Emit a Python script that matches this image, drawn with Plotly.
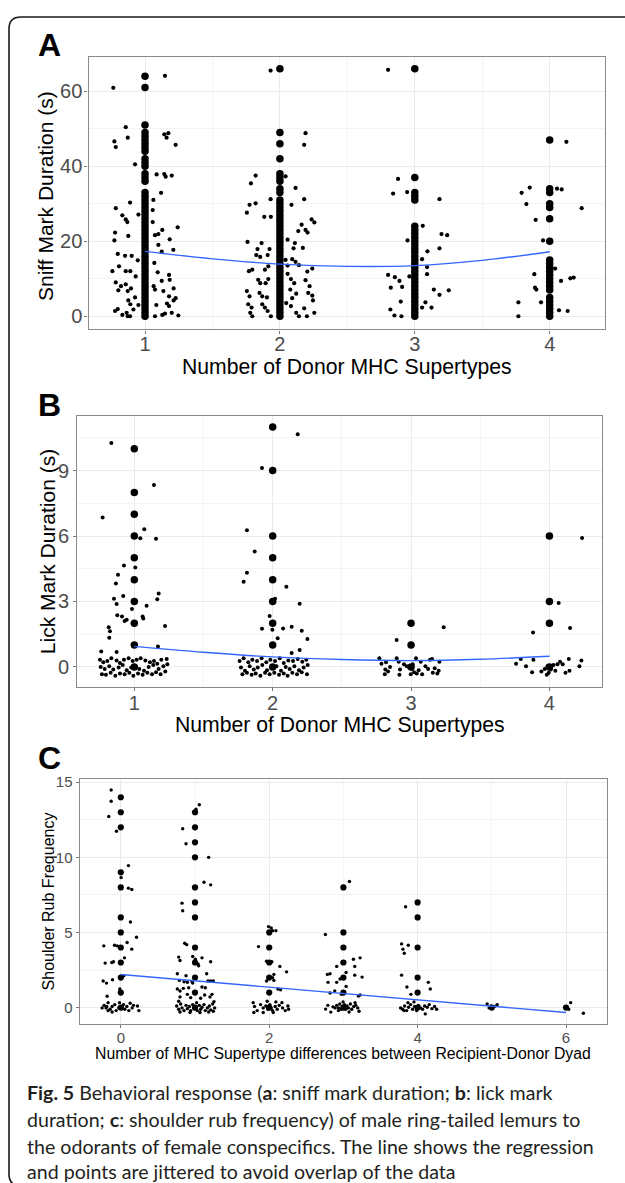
import plotly.graph_objects as go

W, H = 625, 1183

# ---------------- Panel A : sniff mark duration ----------------
a_big_1 = [0, 1, 2, 3, 4, 5, 6, 7, 8, 9, 10, 11, 12, 13, 14, 15, 16, 17, 18, 19, 20, 21, 22, 23, 24, 25, 26,
           27, 28, 29, 30, 31, 32, 33, 36, 37, 38, 40, 41, 42, 44, 45, 46, 47, 48, 49, 51, 61, 64]
a_big_2 = [0, 1, 2, 3, 4, 5, 6, 7, 8, 9, 10, 11, 12, 13, 14, 15, 16, 17, 18, 19, 20, 21, 22, 23, 24, 25, 26,
           27, 28, 29, 30, 31, 33, 34, 36, 37, 38, 42, 46, 49, 66]
a_big_3 = [0, 1, 2, 3, 4, 5, 6, 7, 8, 9, 10, 11, 12, 13, 14, 15, 16, 17, 18, 19, 20, 21, 22, 23, 24,
           31, 32, 33, 37, 66]
a_big_4 = [0, 1, 2, 3, 4, 5, 7, 8, 9, 10, 11, 12, 13, 14, 15, 20, 26, 29, 30, 33, 34, 47]

a_jit_x = [0.765, 1.148, 0.857, 0.872, 0.773, 0.783, 1.143, 1.173, 1.16, 1.227, 0.926, 1.086, 1.143, 1.153, 1.198,
           1.119, 0.783, 0.889, 0.832, 0.857, 0.869, 0.951, 1.062, 1.057, 1.057, 1.242, 1.128, 1.074, 1.099, 0.778,
           0.773, 0.876, 1.183, 1.099, 1.21, 0.798, 0.852, 0.901, 0.946, 1.124, 0.758, 0.807, 0.857, 0.891, 0.931,
           1.069, 1.094, 1.178, 1.183, 0.783, 0.802, 0.822, 0.857, 0.872, 0.896, 0.926, 0.876, 0.891, 0.951, 1.064,
           1.074, 1.124, 1.136, 1.212, 1.178, 1.227, 1.212, 1.084, 1.163, 1.178, 0.798, 0.778, 0.832, 0.864, 0.872,
           0.889, 0.914, 1.074, 1.128, 1.148, 1.198, 1.247,
           1.931, 2.19, 2.18, 1.82, 1.785, 2.042, 2.116, 1.931, 2.18, 1.775, 1.82, 1.755, 1.884, 1.933, 2.086, 2.235,
           2.255, 2.161, 2.136, 2.19, 2.205, 1.76, 1.864, 1.834, 1.825, 1.854, 1.923, 1.909, 2.057, 2.111, 2.101,
           2.17, 2.091, 2.116, 2.141, 1.77, 1.795, 1.889, 1.914, 2.042, 2.057, 2.24, 2.203, 1.839, 1.854, 1.914,
           1.894, 2.057, 2.082, 2.106, 2.19, 2.22, 1.755, 1.775, 1.849, 1.869, 1.904, 2.077, 2.091, 2.121, 2.21,
           2.24, 2.245, 1.765, 1.79, 1.78, 1.795, 1.869, 1.889, 1.909, 1.933, 2.047, 2.082, 2.121, 2.141, 2.18, 2.2,
           2.255,
           2.802, 2.876, 2.839, 2.943, 3.183, 3.059, 3.198, 3.24, 2.946, 3.094, 3.183, 3.054, 3.091, 3.091, 2.802,
           2.852, 2.886, 2.906, 2.822, 2.96, 3.141, 3.183, 3.252, 2.896, 2.819, 2.849, 2.901, 3.079, 3.054, 3.124,
           4.124, 3.792, 3.852, 4.054, 4.089, 3.827, 4.237, 3.896, 3.951, 4.04, 3.886, 3.891, 3.901, 4.084, 4.153,
           4.178, 3.768, 3.768, 3.936, 4.069, 4.133]
a_jit_y = [60.9, 64.1, 50.4, 47.6, 46.6, 45.1, 48.5, 48.8, 47.6, 45.7, 40.5, 37.8, 37.9, 37.2, 37.5,
           32.9, 28.8, 30.3, 26.9, 25.8, 25.1, 27.1, 31.0, 28.3, 25.1, 23.7, 23.0, 21.6, 21.9, 22.3,
           20.2, 21.4, 20.5, 19.0, 17.7, 16.6, 16.1, 16.1, 14.9, 17.2, 12.0, 13.3, 12.0, 12.0, 10.6,
           14.2, 11.7, 11.0, 9.7, 9.0, 6.9, 8.0, 8.5, 6.7, 7.4, 5.0, 4.2, 3.2, 3.0, 8.0,
           7.1, 9.4, 6.7, 7.4, 5.3, 4.8, 4.2, 3.0, 3.4, 2.7, 1.9, 1.4, 0.35, 0.9, 0.0,
           0.0, 1.8, 0.0, 0.35, 0.7, 0.9, 0.2,
           65.5, 48.8, 45.7, 37.5, 35.4, 37.3, 34.2, 31.2, 31.2, 29.7, 30.1, 27.6, 26.5, 26.5, 29.7, 25.8,
           25.0, 24.4, 22.7, 23.0, 22.3, 19.8, 19.5, 17.9, 16.3, 15.8, 17.9, 16.3, 20.4, 19.5, 18.1,
           18.2, 15.2, 14.5, 13.6, 12.0, 12.4, 12.4, 13.3, 15.0, 13.5, 12.7, 11.9, 9.7, 8.8, 9.9,
           8.8, 11.3, 9.9, 8.8, 9.6, 8.0, 6.7, 5.3, 6.2, 5.3, 5.0, 7.1, 4.8, 6.0, 6.2,
           5.5, 4.2, 3.2, 2.3, 0.9, 0.0, 3.2, 2.3, 1.4, 0.0, 3.5, 2.7, 0.9, 0.0, 2.1, 0.0,
           0.9,
           65.7, 36.6, 32.7, 33.1, 31.2, 24.1, 21.9, 21.6, 20.2, 17.3, 18.1, 15.2, 13.1, 11.2, 11.0,
           10.4, 9.4, 7.8, 7.6, 10.6, 7.1, 5.7, 6.9, 3.9, 1.8, 0.2, 0.0, 3.7, 2.3, 2.3,
           46.5, 32.9, 34.3, 34.0, 33.8, 29.9, 28.8, 25.7, 20.2, 12.7, 11.2, 7.6, 7.1, 9.4, 10.1,
           10.3, 3.7, 0.0, 3.7, 1.6, 1.4]

a_fit_x = [1, 1.5, 2, 2.5, 3, 3.5, 4]
a_fit_y = [17.3, 15.3, 13.9, 13.3, 13.5, 14.9, 17.2]
a_ticks_y = [0, 20, 40, 60]

# ---------------- Panel B : lick mark duration ----------------
b_big_1 = [0, 1, 2, 3, 4, 5, 6, 7, 8, 10]
b_big_2 = [0, 1, 2, 3, 4, 5, 6, 9, 11]
b_big_3 = [0, 1, 2]
b_big_4 = [0, 2, 3, 6]

b_jit_x = [0.834, 1.142, 0.771, 1.072, 1.043, 1.157, 0.925, 1.007, 0.882, 0.867, 0.853, 0.872, 0.92, 0.983, 1.089,
           1.176, 1.166, 0.877, 0.911, 0.93, 0.945, 1.06, 1.065, 1.222, 0.815, 0.824, 0.819, 1.171, 0.761, 0.872,
           0.752, 0.776, 0.805, 0.834, 0.872, 0.896, 0.925, 0.959, 0.988, 1.017, 1.046, 1.080, 1.113, 1.142, 1.166,
           1.195, 1.234,
           0.757, 0.786, 0.819, 0.848, 0.887, 0.916, 0.945, 0.978, 1.007, 1.036, 1.070, 1.104, 1.137, 1.176, 1.210,
           1.239,
           0.766, 0.795, 0.829, 0.863, 0.896, 0.930, 0.964, 0.993, 1.027, 1.060, 1.094, 1.128, 1.157, 1.190, 1.224,
           2.181, 1.923, 1.814, 1.87, 1.814, 1.79, 2.099, 2.017, 2.195, 1.978, 1.923, 1.998, 2.075, 2.137, 2.21,
           2.036, 2.251, 2.195, 2.137,
           1.761, 1.790, 1.824, 1.853, 1.887, 1.920, 1.954, 1.983, 2.017, 2.051, 2.080, 2.113, 2.147, 2.181, 2.214,
           2.243,
           1.771, 1.800, 1.834, 1.863, 1.892, 1.925, 1.959, 1.993, 2.027, 2.060, 2.094, 2.123, 2.157, 2.190, 2.224,
           2.253,
           1.781, 1.814, 1.848, 1.877, 1.911, 1.945, 1.978, 2.012, 2.046, 2.080, 2.108, 2.142, 2.176, 2.210, 2.248,
           3.236, 2.896, 2.771, 2.786, 2.819, 2.814, 2.810, 2.834, 2.848, 2.896, 2.911, 2.920, 2.916, 2.949, 2.969,
           2.988, 3.007, 3.022, 3.036, 3.041, 3.055, 3.070, 3.080, 3.104, 3.123, 3.137, 3.152, 3.157, 3.171, 3.200,
           3.205, 3.190, 2.998, 3.012,
           4.236, 4.067, 4.149, 3.882, 3.759, 3.793, 3.831, 3.875, 3.884, 3.942, 3.966, 3.981, 3.995, 4.014, 4.029,
           4.043, 4.058, 4.077, 4.096, 4.116, 4.140, 4.145, 4.217, 4.231, 4.010, 3.986]
b_jit_y = [10.27, 8.34, 6.85, 6.31, 5.9, 5.88, 4.65, 4.56, 4.22, 3.83, 3.13, 2.89, 3.25, 2.66, 2.8,
           3.37, 3.1, 2.37, 2.31, 2.1, 2.16, 2.31, 2.22, 1.88, 1.82, 1.64, 1.34, 0.94, 0.71, 0.68,
           0.33, 0.21, 0.27, 0.40, 0.30, 0.18, 0.33, 0.40, 0.27, 0.33, 0.40, 0.30, 0.21, 0.27, 0.15,
           0.33, 0.36,
           0.0, -0.09, 0.03, -0.12, -0.03, 0.09, -0.15, -0.03, 0.03, -0.09, -0.18, 0.0, 0.09, -0.09, 0.03,
           0.12,
           -0.33, -0.36, -0.27, -0.40, -0.30, -0.33, -0.27, -0.40, -0.30, -0.36, -0.27, -0.33, -0.24, -0.33, -0.21,
           10.67, 9.12, 6.26, 5.29, 4.32, 3.91, 3.68, 3.13, 2.9, 2.34, 1.75, 1.70, 1.76, 1.84, 1.66,
           1.31, 1.28, 0.78, 0.64,
           0.27, 0.40, 0.21, 0.33, 0.27, 0.40, 0.21, 0.33, 0.27, 0.40, 0.18, 0.30, 0.27, 0.36, 0.24,
           0.33,
           -0.03, -0.18, 0.03, -0.12, -0.03, 0.09, -0.15, -0.03, 0.03, -0.18, 0.0, -0.09, 0.03, -0.15, -0.03,
           0.09,
           -0.33, -0.27, -0.36, -0.30, -0.40, -0.27, -0.33, -0.27, -0.36, -0.30, -0.40, -0.27, -0.33, -0.24, -0.33,
           1.82, 1.23, 0.40, 0.15, 0.21, -0.12, -0.33, -0.21, 0.0, 0.40, 0.24, -0.12, -0.36, 0.12, 0.03,
           -0.03, -0.09, -0.24, 0.40, -0.30, -0.15, 0.24, -0.33, 0.03, -0.09, 0.33, 0.36, -0.27, -0.06, -0.18,
           0.24, -0.30, -0.33, 0.12,
           5.91, 2.93, 1.79, 1.58, 0.15, 0.36, 0.03, -0.24, 0.33, -0.21, -0.09, -0.36, -0.27, 0.03, 0.09,
           -0.18, 0.12, 0.24, 0.12, -0.27, 0.36, -0.18, 0.03, 0.30, -0.12, 0.03]

b_fit_x = [1, 1.5, 2, 2.5, 3, 3.5, 4]
b_fit_y = [0.94, 0.67, 0.46, 0.34, 0.29, 0.35, 0.49]
b_ticks_y = [0, 3, 6, 9]

# ---------------- Panel C : shoulder rub frequency ----------------
c_big_0 = [0, 1, 2, 3, 4, 5, 6, 8, 9, 12, 13, 14]
c_big_1 = [0, 1, 2, 3, 4, 6, 7, 8, 10, 11, 12, 13]
c_big_2 = [0, 1, 2, 3, 4, 5]
c_big_3 = [0, 1, 2, 3, 4, 5, 8]
c_big_4 = [0, 1, 2, 4, 6, 7]
c_big_5 = [0]
c_big_6 = [0]

c_jit_x = [-0.13, -0.13, -0.162, -0.058, 0.103, 0.004, 0.103, 0.148, 0.13, 0.211, -0.229, -0.085, -0.049, 0.085,
           0.148, 0.049, -0.211, -0.121, -0.099, -0.238, -0.193, -0.112, 0.04, -0.013, -0.184,
           -0.225, -0.198, -0.171, -0.144, -0.117, -0.081, -0.063, -0.027, 0.018, 0.036, 0.054, 0.081, 0.108, 0.126,
           0.153, 0.171, 0.225, 0.243, -0.171, -0.018, -0.117, -0.252, -0.189,
           1.058, 1.013, 0.834, 0.879, 1.184, 1.121, 1.211, 0.825, 0.834, 0.861, 0.888, 0.78, 0.798, 0.969, 1.004,
           1.094, 1.211, 1.04, 1.049, 0.762, 0.879, 1.157, 0.789, 0.852, 0.897, 1.175, 1.211, 1.247, 0.96, 0.969,
           0.762, 0.798, 0.843, 0.915, 1.094, 1.139, 1.229, 0.798, 0.897, 0.942, 1.076, 1.13, 1.202, 1.256,
           0.753, 0.780, 0.807, 0.825, 0.852, 0.879, 0.897, 0.924, 0.942, 0.969, 0.987, 1.013, 1.031, 1.058, 1.076,
           1.094, 1.121, 1.139, 1.166, 1.193, 1.211, 1.238, 1.265, 0.798, 0.933, 1.067, 1.184, 0.780, 1.022, 1.247,
           1.991, 2.027, 2.045, 2.09, 1.856, 1.964, 2.018, 2.036, 2.144, 2.234, 2.063, 2.045, 1.964, 2.063, 2.117,
           2.153,
           1.784, 1.802, 1.838, 1.883, 1.919, 1.955, 1.982, 2.009, 2.027, 2.045, 2.081, 2.108, 2.135, 2.180, 2.216,
           2.252, 2.261, 1.793, 1.919, 2.054, 2.171, 1.973, 2.090,
           3.081, 3.135, 3.225, 3.153, 2.91, 2.82, 3.036, 3.153, 3.252, 2.91, 2.883, 2.955, 3.036, 2.973, 2.82,
           3.225, 2.757, 2.784, 2.793, 3.202,
           2.910, 2.933, 2.951, 2.969, 2.987, 3.013, 3.031, 3.049, 3.067, 3.094, 3.112, 3.139, 3.166, 3.193, 3.211,
           2.933, 3.076, 2.996, 3.157, 2.888, 2.76, 2.79, 2.83, 2.86,
           3.838, 3.784, 3.802, 3.82, 3.874, 3.784, 3.856, 4.144, 4.171, 3.91,
           3.771, 3.798, 3.825, 3.852, 3.879, 3.906, 3.933, 3.960, 3.987, 4.013, 4.040, 4.067, 4.094, 4.130, 4.157,
           4.193, 4.229, 4.256, 4.103, 3.870, 3.951, 3.816,
           4.937, 4.964, 5.036, 5.072, 4.991,
           6.063, 6.234, 6.036]
c_jit_y = [14.48, 13.73, 12.72, 11.74, 9.45, 8.65, 7.95, 7.86, 5.7, 4.68, 4.11, 4.15, 4.11, 4.33,
           3.89, 3.31, 2.96, 3.0, 3.05, 1.77, 1.63, 1.85, 2.12, 1.24, 0.75,
           0.15, -0.02, -0.2, -0.11, 0.07, 0.2, -0.2, -0.02, -0.07, 0.2, -0.11, 0.07, -0.2, 0.29,
           -0.02, 0.15, 0.11, -0.2, 0.33, 0.33, -0.29, -0.02, 0.07,
           13.5, 13.2, 11.9, 10.9, 10.0, 8.34, 8.17, 6.95, 6.45, 4.28, 4.19, 3.36, 3.13, 3.4, 3.22,
           3.31, 3.05, 2.91, 2.78, 2.25, 2.12, 2.25, 1.81, 1.72, 1.68, 1.77, 1.77, 1.77, 1.72, 1.63,
           1.24, 1.1, 1.28, 1.32, 1.37, 1.32, 0.88, 0.71, 0.88, 0.66, 0.62, 0.84, 0.71, 0.4,
           0.11, -0.11, 0.24, -0.02, -0.20, 0.15, -0.07, 0.07, -0.20, 0.20, -0.07, 0.07, -0.20, 0.15, -0.11,
           0.02, 0.20, -0.20, -0.02, 0.11, -0.15, 0.24, -0.02, -0.29, -0.33, -0.33, -0.29, 0.42, 0.33, -0.24,
           5.39, 5.3, 5.12, 5.12, 4.06, 3.09, 2.96, 3.05, 2.74, 2.38, 2.21, 1.99, 1.77, 1.81, 1.24,
           1.19,
           0.33, 0.07, -0.20, 0.20, -0.02, 0.11, -0.11, 0.20, -0.02, -0.20, 0.07, -0.11, 0.15, -0.02, -0.20,
           0.11, -0.11, -0.33, -0.33, -0.33, 0.33, 0.42, 0.38,
           8.39, 3.22, 3.31, 2.74, 2.74, 2.25, 2.34, 2.16, 2.03, 1.68, 1.1, 1.9, 1.41, 0.88, 0.97,
           0.84, 4.86, 2.21, 1.68, 0.77,
           0.15, -0.02, 0.24, -0.11, 0.07, 0.20, -0.11, 0.11, -0.02, 0.24, -0.11, 0.07, 0.15, -0.02, -0.24,
           -0.20, -0.29, 0.38, 0.33, -0.02, -0.1, 0.15, -0.3, 0.05,
           6.71, 4.24, 3.89, 3.62, 4.15, 2.16, 1.37, 1.68, 1.24, 0.88,
           -0.02, -0.11, 0.11, -0.20, 0.02, 0.20, -0.11, 0.07, -0.20, 0.15, -0.02, -0.11, 0.11, 0.02, 0.20,
           -0.07, 0.07, -0.11, -0.42, 0.33, 0.38, -0.20,
           0.24, -0.02, 0.07, 0.20, 0.11,
           0.33, -0.38, -0.11]

c_fit_x = [0, 6]
c_fit_y = [2.2, -0.33]
c_ticks_y = [0, 5, 10, 15]
c_ticks_x = [0, 2, 4, 6]

# ---------------- texts ----------------
panel_letters = ["A", "B", "C"]
x_title_ab = "Number of Donor MHC Supertypes"
x_title_c = "Number of MHC Supertype differences between Recipient-Donor Dyad"
y_title_a = "Sniff Mark Duration (s)"
y_title_b = "Lick Mark Duration (s)"
y_title_c = "Shoulder Rub Frequency"
caption_lines = [
    "<b>Fig. 5</b> Behavioral response (<b>a</b>: sniff mark duration; <b>b</b>: lick mark",
    "duration; <b>c</b>: shoulder rub frequency) of male ring-tailed lemurs to",
    "the odorants of female conspecifics. The line shows the regression",
    "and points are jittered to avoid overlap of the data",
]

# ---------------- layout helpers (pixel -> paper) ----------------
def px(x):
    return x / W


def py(y):
    return 1 - y / H


PLOT_FONT = "Liberation Sans, Arial, sans-serif"
CAP_FONT = "Lato, Open Sans, sans-serif"
BLACK = "#000000"
FIT = "#3366FF"

fig = go.Figure()


def add_panel(idx, bigs, jx, jy, fx, fy, big_size, small_size, line_shape):
    xa = "x" if idx == 1 else f"x{idx}"
    ya = "y" if idx == 1 else f"y{idx}"
    for xv, vals in bigs:
        fig.add_trace(go.Scatter(x=[xv] * len(vals), y=vals, mode="markers", xaxis=xa, yaxis=ya,
                                 marker=dict(size=big_size, color=BLACK, line=dict(width=0)),
                                 showlegend=False, hoverinfo="skip"))
    fig.add_trace(go.Scatter(x=jx, y=jy, mode="markers", xaxis=xa, yaxis=ya,
                             marker=dict(size=small_size, color=BLACK, line=dict(width=0)),
                             showlegend=False, hoverinfo="skip"))
    fig.add_trace(go.Scatter(x=fx, y=fy, mode="lines", xaxis=xa, yaxis=ya,
                             line=dict(color=FIT, width=1.4, shape=line_shape),
                             showlegend=False, hoverinfo="skip"))


add_panel(1, [(1, a_big_1), (2, a_big_2), (3, a_big_3), (4, a_big_4)], a_jit_x, a_jit_y,
          a_fit_x, a_fit_y, 7.5, 4.2, "spline")
add_panel(2, [(1, b_big_1), (2, b_big_2), (3, b_big_3), (4, b_big_4)], b_jit_x, b_jit_y,
          b_fit_x, b_fit_y, 7.5, 4.0, "spline")
add_panel(3, [(0, c_big_0), (1, c_big_1), (2, c_big_2), (3, c_big_3), (4, c_big_4), (5, c_big_5), (6, c_big_6)],
          c_jit_x, c_jit_y, c_fit_x, c_fit_y, 6.2, 3.4, "linear")


def axis(domain, rng, tickvals, minor_dtick, fsize, anchor, standoff, ticklen=3):
    return dict(domain=domain, range=rng, tickmode="array", tickvals=tickvals,
                showgrid=True, gridcolor="#EBEBEB", gridwidth=1.1,
                minor=dict(dtick=minor_dtick, tick0=0, showgrid=True, gridcolor="#F4F4F4", gridwidth=0.7,
                           ticks=""),
                showline=True, mirror=True, linecolor="#8A8A8A", linewidth=1.3,
                ticks="outside", ticklen=ticklen, tickwidth=1, tickcolor="#7A7A7A",
                tickfont=dict(family=PLOT_FONT, size=fsize, color="#4D4D4D"),
                ticklabelstandoff=standoff,
                zeroline=False, anchor=anchor, fixedrange=True)


# pixel geometry of the three panels
A_L, A_R, A_T, A_B = 88.5, 605.0, 51.7, 325.0
B_L, B_R, B_T, B_B = 77.3, 602.0, 411.7, 684.3
C_L, C_R, C_T, C_B = 79.7, 606.6, 777.3, 1023.3

fig.update_layout(
    width=W, height=H, margin=dict(l=0, r=0, t=0, b=0),
    paper_bgcolor="white", plot_bgcolor="white", showlegend=False,
    xaxis=axis([px(A_L), px(A_R)], [0.581, 4.41], [1, 2, 3, 4], 0.5, 20, "y", -7),
    yaxis=axis([py(A_B), py(A_T)], [-3.5, 69.0], a_ticks_y, 10, 20, "x", -2),
    xaxis2=axis([px(B_L), px(B_R)], [0.588, 4.38], [1, 2, 3, 4], 0.5, 20, "y2", -5),
    yaxis2=axis([py(B_B), py(B_T)], [-0.912, 11.52], b_ticks_y, 1.5, 20, "x2", 0),
    xaxis3=axis([px(C_L), px(C_R)], [-0.554, 6.547], c_ticks_x, 1, 15, "y3", -3),
    yaxis3=axis([py(C_B), py(C_T)], [-1.10, 15.19], c_ticks_y, 2.5, 15, "x3", 0),
)

ann = []


def txt(text, x, y, size, family=PLOT_FONT, color=BLACK, xanchor="center", yanchor="middle", angle=0):
    ann.append(dict(text=text, x=px(x), y=py(y), xref="paper", yref="paper", showarrow=False,
                    xanchor=xanchor, yanchor=yanchor, textangle=angle,
                    font=dict(family=family, size=size, color=color)))


# panel letters
for letter, ly in zip(panel_letters, [39, 401, 756]):
    txt(f"<b>{letter}</b>", 36, ly, 32, xanchor="left")

# axis titles
txt(x_title_ab, (A_L + A_R) / 2, 363, 21.2)
txt(x_title_ab, (B_L + B_R) / 2, 723, 21.2)
txt(x_title_c, (C_L + C_R) / 2, 1053, 15.8)
txt(y_title_a, 45, 191, 21, angle=-90)
txt(y_title_b, 47, 549, 21, angle=-90)
txt(y_title_c, 48, 900, 16, angle=-90)

# caption
for line, ly in zip(caption_lines, [1092, 1119, 1146, 1171]):
    txt(line, 24.5, ly, 19.6, family=CAP_FONT, color="#231F20", xanchor="left")

fig.update_layout(annotations=ann)

# outer rounded frame (extends beyond the right / bottom edges of the picture)
x0, y0, x1, y1 = px(9), py(11), px(640), py(1186)
rx, ry = 12 / W, 12 / H
path = (f"M {x0},{y1 + ry} L {x0},{y0 - ry} Q {x0},{y0} {x0 + rx},{y0} L {x1},{y0}")
fig.add_shape(type="path", path=path, xref="paper", yref="paper",
              line=dict(color="#1A1A1A", width=1.6))
path2 = f"M {x0},{y1 + ry} Q {x0},{y1} {x0 + rx},{y1} L {x1},{y1}"
fig.add_shape(type="path", path=path2, xref="paper", yref="paper",
              line=dict(color="#1A1A1A", width=1.6))

fig.write_html("out.html", config={"displayModeBar": False},
               post_script="document.body.style.margin='0px';")
